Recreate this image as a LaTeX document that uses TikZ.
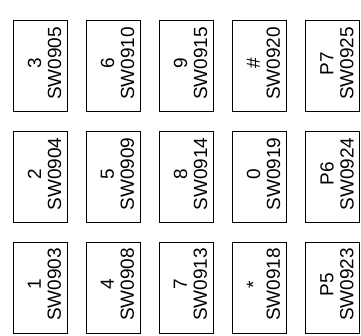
\documentclass[tikz,border=0pt]{standalone}
\usepackage{fontspec}
\setmainfont{Liberation Sans}
\begin{document}
\begin{tikzpicture}[x=1pt,y=1pt,
  keybox/.style={draw=black,line width=1pt,minimum width=54pt,minimum height=91pt,inner sep=0pt,outer sep=0pt},
  keylabel/.style={rotate=90,align=center,font=\fontsize{19}{20}\selectfont,inner sep=0pt}]
\useasboundingbox (0,0) rectangle (361,335);
\foreach \col/\cx in {1/40,2/113,3/186,4/259,5/332.5}{
  \foreach \row/\cy in {1/268.5,2/158,3/47.5}{
    \node[keybox] (b\col\row) at (\cx,\cy) {};
  }
}
\foreach \col/\row/\a/\b in {1/1/3/SW0905,2/1/6/SW0910,3/1/9/SW0915,4/1/\#/SW0920,5/1/P7/SW0925,
  1/2/2/SW0904,2/2/5/SW0909,3/2/8/SW0914,4/2/0/SW0919,5/2/P6/SW0924,
  1/3/1/SW0903,2/3/4/SW0908,3/3/7/SW0913,4/3/*/SW0918,5/3/P5/SW0923}{
  \node[keylabel] (t\col\row) at ([xshift=4.5pt,yshift=3pt]b\col\row.center) {\a\\\b};
}
\end{tikzpicture}
\end{document}
